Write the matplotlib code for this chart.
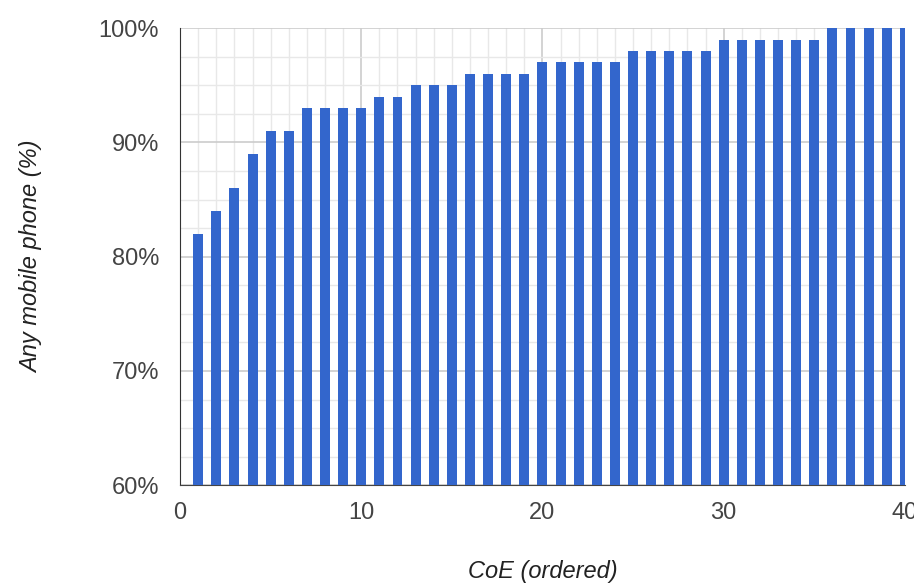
import matplotlib
matplotlib.use("Agg")
import matplotlib.pyplot as plt
from matplotlib.ticker import MultipleLocator, FuncFormatter

# CoE rank and share with any mobile phone (%)
coe_rank = list(range(1, 41))
any_phone = [82, 84, 86, 89, 91, 91, 93, 93, 93, 93,
             94, 94, 95, 95, 95, 96, 96, 96, 96, 97,
             97, 97, 97, 97, 98, 98, 98, 98, 98, 99,
             99, 99, 99, 99, 99, 100, 100, 100, 100, 100]

plt.rcParams["font.family"] = ["Liberation Sans", "DejaVu Sans"]

fig = plt.figure(figsize=(9.14, 5.86), dpi=100)
ax = fig.add_axes([0.197, 0.172, 0.793, 0.780])

ax.bar(coe_rank, any_phone, width=0.55, color="#3366cc", zorder=3)

ax.set_xlim(0, 40)
ax.set_ylim(60, 100)
ax.xaxis.set_major_locator(MultipleLocator(10))
ax.xaxis.set_minor_locator(MultipleLocator(1))
ax.yaxis.set_major_locator(MultipleLocator(10))
ax.yaxis.set_minor_locator(MultipleLocator(2.5))
ax.yaxis.set_major_formatter(FuncFormatter(lambda v, p: "%d%%" % v))

ax.grid(which="major", color="#cccccc", linewidth=1.2, zorder=0)
ax.grid(which="minor", color="#e8e8e8", linewidth=1.0, zorder=0)
ax.tick_params(which="both", length=0)
ax.tick_params(axis="both", labelsize=17, labelcolor="#444444")
ax.tick_params(axis="x", pad=12)
ax.tick_params(axis="y", pad=15)

for s in ["top", "right"]:
    ax.spines[s].set_visible(False)
ax.spines["left"].set_color("#333333")
ax.spines["bottom"].set_color("#444444")

ax.set_xlabel("CoE (ordered)", fontsize=17, style="italic", color="#222222", labelpad=26)
ax.set_ylabel("Any mobile phone (%)", fontsize=17, style="italic", color="#222222", labelpad=40)

fig.savefig("out.png", dpi=100)
